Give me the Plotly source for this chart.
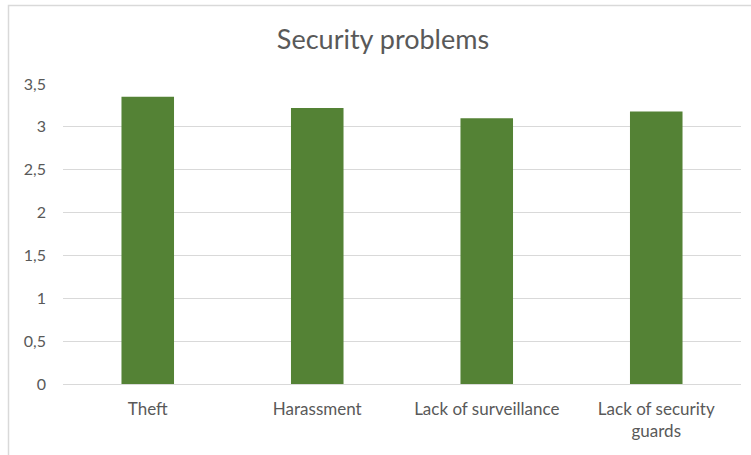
import plotly.graph_objects as go

# Survey data: mean rating per security problem
categories = ["Theft", "Harassment", "Lack of surveillance", "Lack of security<br>guards"]
values = [3.35, 3.22, 3.10, 3.18]

# Y axis ticks (comma decimal separator)
y_tickvals = [0, 0.5, 1, 1.5, 2, 2.5, 3, 3.5]
y_ticktext = ["0", "0,5", "1", "1,5", "2", "2,5", "3", "3,5"]

BAR_COLOR = "#548235"
GRID_COLOR = "#d9d9d9"
TEXT_COLOR = "#595959"
FONT = "Lato, 'Open Sans', sans-serif"

W, H = 751, 455
M_L, M_R, M_T, M_B = 63, 10, 84, 71
PW, PH = W - M_L - M_R, H - M_T - M_B


def px_x(x):
    return (x - M_L) / PW


def px_y(y):
    return (H - M_B - y) / PH


fig = go.Figure(
    go.Bar(
        x=categories,
        y=values,
        marker=dict(color=BAR_COLOR, line=dict(width=0)),
        hoverinfo="x+y",
    )
)

fig.update_layout(
    width=W,
    height=H,
    margin=dict(l=M_L, r=M_R, t=M_T, b=M_B),
    paper_bgcolor="white",
    plot_bgcolor="white",
    bargap=0.69,
    showlegend=False,
    font=dict(family=FONT, color=TEXT_COLOR, size=17),
    title=dict(
        text="Security problems",
        x=0.51,
        xanchor="center",
        y=1 - 40 / H,
        yanchor="middle",
        font=dict(family=FONT, size=27, color=TEXT_COLOR),
    ),
    xaxis=dict(
        showgrid=False,
        showline=False,
        ticks="",
        ticklabelstandoff=13,
        tickfont=dict(size=17, color=TEXT_COLOR),
        fixedrange=True,
    ),
    yaxis=dict(
        range=[0, 3.5],
        tickvals=y_tickvals,
        ticktext=y_ticktext,
        showgrid=True,
        gridcolor=GRID_COLOR,
        gridwidth=1.3,
        zeroline=True,
        zerolinecolor=GRID_COLOR,
        zerolinewidth=1.3,
        showline=False,
        ticks="",
        ticklabelstandoff=16,
        tickfont=dict(size=16, color=TEXT_COLOR),
        fixedrange=True,
    ),
    shapes=[
        # outer chart frame (left and top edges)
        dict(
            type="path",
            xref="paper",
            yref="paper",
            path=f"M {px_x(8.5)} {px_y(H + 2)} L {px_x(8.5)} {px_y(5.5)} L {px_x(W + 2)} {px_y(5.5)}",
            line=dict(color=GRID_COLOR, width=1.5),
            layer="below",
        )
    ],
)

fig.write_html("out.html")
